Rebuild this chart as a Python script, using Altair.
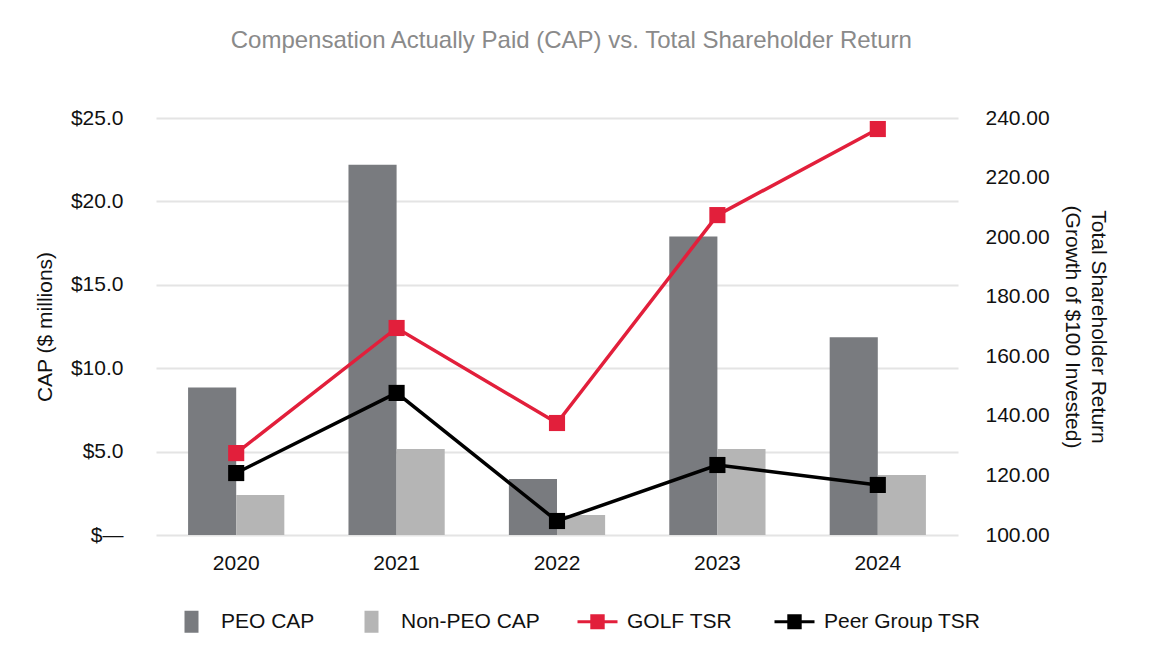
import altair as alt
import pandas as pd

years = ["2020", "2021", "2022", "2023", "2024"]
peo_cap = [8.85, 22.2, 3.35, 17.9, 11.85]
non_peo_cap = [2.4, 5.15, 1.2, 5.15, 3.6]
golf_tsr = [127.5, 169.5, 137.6, 207.4, 236.3]
peer_tsr = [120.8, 147.7, 104.7, 123.5, 116.8]

bar_names = ["PEO CAP", "Non-PEO CAP"]
bar_colors = ["#797b7f", "#b5b5b5"]
line_names = ["GOLF TSR", "Peer Group TSR"]
line_colors = ["#e21f3b", "#000000"]

bars = pd.DataFrame(
    [{"year": y, "series": "PEO CAP", "value": v} for y, v in zip(years, peo_cap)]
    + [{"year": y, "series": "Non-PEO CAP", "value": v} for y, v in zip(years, non_peo_cap)]
)
lines = pd.DataFrame(
    [{"year": y, "series": "GOLF TSR", "value": v} for y, v in zip(years, golf_tsr)]
    + [{"year": y, "series": "Peer Group TSR", "value": v} for y, v in zip(years, peer_tsr)]
)

FONT = "Liberation Sans"
FS = 21

bar_path = "M-0.35,-0.55H0.35V0.55H-0.35Z"
line_path = "M-1,0H1M-0.36,-0.3H0.36M-0.36,-0.15H0.36M-0.36,0H0.36M-0.36,0.15H0.36M-0.36,0.3H0.36"

common_legend = dict(
    title=None,
    orient="bottom",
    direction="horizontal",
    symbolSize=1600,
    symbolStrokeWidth=3,
    labelFont=FONT,
    labelFontSize=FS,
    labelColor="#111111",
    labelOffset=8,
    columnPadding=35,
    padding=14,
    offset=13,
    symbolOpacity=1,
)

x_axis = alt.Axis(
    title=None, domain=False, ticks=False, labelAngle=0, labelPadding=17,
    labelFont=FONT, labelFontSize=FS, labelColor="#111111", grid=False,
)
x_scale = alt.Scale(paddingInner=0.4, paddingOuter=0.2)

bar_layer = alt.Chart(bars).mark_bar().encode(
    x=alt.X("year:N", sort=years, scale=x_scale, axis=x_axis),
    xOffset=alt.XOffset("series:N", sort=bar_names, scale=alt.Scale(paddingInner=0, paddingOuter=0)),
    y=alt.Y(
        "value:Q",
        scale=alt.Scale(domain=[0, 25], nice=False),
        axis=alt.Axis(
            title="CAP ($ millions)",
            values=[0, 5, 10, 15, 20, 25],
            labelExpr="datum.value == 0 ? '$—' : '$' + format(datum.value, '.1f')",
            domain=False, ticks=False, labelPadding=33,
            labelFont=FONT, labelFontSize=FS, labelColor="#111111",
            titleFont=FONT, titleFontSize=FS, titleFontWeight="normal", titleColor="#111111",
            titlePadding=15,
            grid=True, gridColor="#e4e4e4", gridWidth=2,
        ),
    ),
    color=alt.Color(
        "series:N",
        scale=alt.Scale(domain=bar_names, range=bar_colors),
        legend=alt.Legend(symbolType=bar_path, **common_legend),
    ),
)

tsr_y = alt.Y(
    "value:Q",
    scale=alt.Scale(domain=[100, 240], nice=False),
    axis=alt.Axis(
        orient="right",
        title=["Total Shareholder Return", "(Growth of $100 Invested)"],
        values=[100, 120, 140, 160, 180, 200, 220, 240],
        format=".2f",
        domain=False, ticks=False, labelPadding=27,
        labelFont=FONT, labelFontSize=FS, labelColor="#111111",
        titleFont=FONT, titleFontSize=FS, titleFontWeight="normal", titleColor="#111111",
        titleLineHeight=26, titlePadding=12, grid=False,
    ),
)

line_layer = alt.Chart(lines).mark_line(strokeWidth=3.5).encode(
    x=alt.X("year:N", sort=years),
    y=tsr_y,
    stroke=alt.Stroke(
        "series:N",
        scale=alt.Scale(domain=line_names, range=line_colors),
        legend=alt.Legend(symbolType=line_path, **common_legend),
    ),
)

point_layer = alt.Chart(lines).mark_square(size=260, opacity=1).encode(
    x=alt.X("year:N", sort=years),
    y=tsr_y,
    fill=alt.Fill("series:N", scale=alt.Scale(domain=line_names, range=line_colors), legend=None),
)

tsr = alt.layer(line_layer, point_layer)

chart = (
    alt.layer(bar_layer, tsr)
    .resolve_scale(y="independent", color="independent", stroke="independent", fill="independent")
    .properties(
        width=802,
        height=417,
        title=alt.TitleParams(
            "Compensation Actually Paid (CAP) vs. Total Shareholder Return",
            font=FONT, fontSize=24, fontWeight="normal", color="#8a8a8a",
            anchor="middle", frame="bounds", offset=54,
        ),
        padding={"left": 26, "top": 21, "right": 5, "bottom": 5},
    )
    .configure_view(stroke=None)
)

chart.save("out.html", embed_options={"renderer": "svg", "actions": False})
